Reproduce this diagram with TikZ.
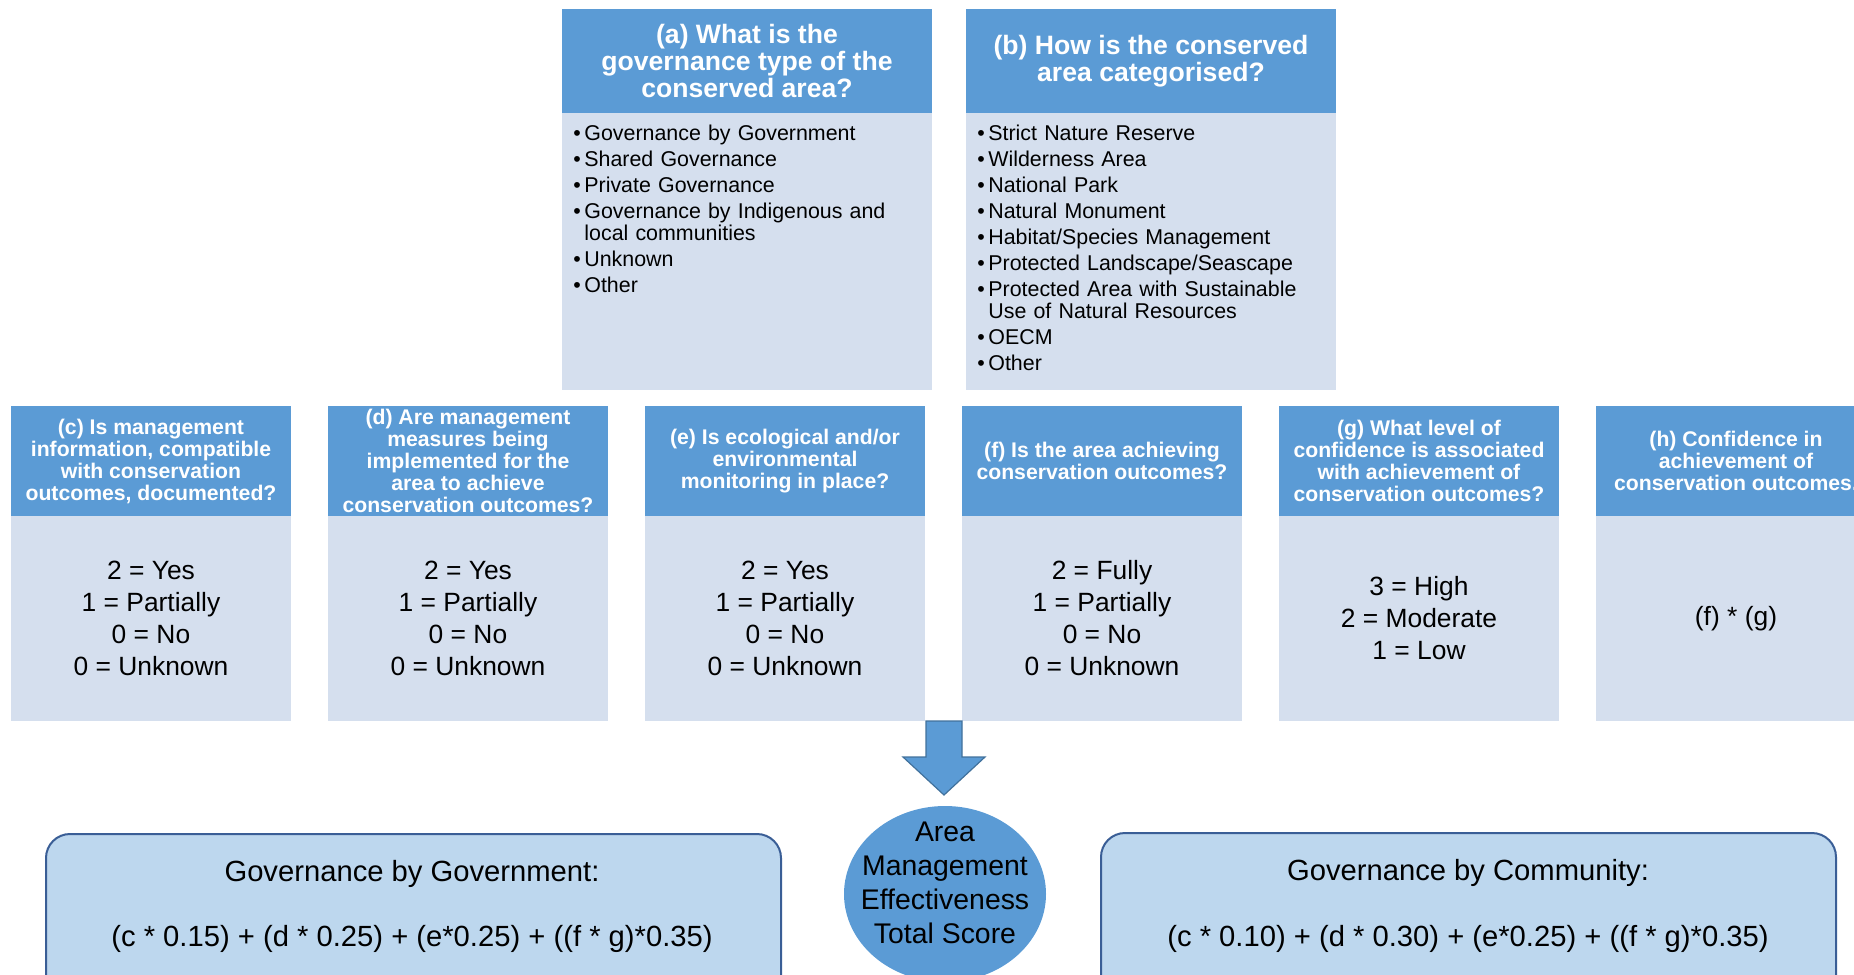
\documentclass[tikz,border=0pt]{standalone}
\usepackage{fontspec}
\setmainfont{Liberation Sans}
\usetikzlibrary{shapes.geometric, positioning}

\definecolor{headblue}{HTML}{5B9BD5}
\definecolor{bodyblue}{HTML}{D5DFEE}
\definecolor{boxblue}{HTML}{BDD7EE}
\definecolor{edgeblue}{HTML}{3A5E96}
\definecolor{arrowedge}{HTML}{41719C}

\newcommand{\listitem}[1]{\par\hangindent=5.5pt\hangafter=1\noindent\makebox[5.5pt][l]{\textbullet}#1}

\tikzset{
  tophead/.style={fill=headblue, text=white, font=\fontsize{13.3}{13.6}\selectfont\bfseries, align=center, minimum width=185pt, minimum height=52pt, inner sep=0pt, outer sep=0pt},
  topbody/.style={fill=bodyblue, minimum width=185pt, minimum height=138.5pt, inner sep=0pt, outer sep=0pt},
  toplist/.style={anchor=north west, text width=178pt, align=left, font=\fontsize{10.7}{10.9}\selectfont, inner sep=0pt, execute at begin node={\setlength{\parskip}{2.1pt}}},
  qhead/.style={fill=headblue, text=white, font=\fontsize{10.6}{11}\selectfont\bfseries, align=center, minimum width=140pt, minimum height=55pt, inner sep=0pt, outer sep=0pt},
  qbody/.style={fill=bodyblue, font=\fontsize{13.2}{16}\selectfont, align=center, minimum width=140pt, minimum height=102.5pt, inner sep=0pt, outer sep=0pt},
  scorebox/.style={draw=edgeblue, line width=1pt, fill=boxblue, rounded corners=12pt, minimum width=367.5pt, minimum height=100pt, anchor=north west},
  boxtext/.style={font=\fontsize{14.6}{17}\selectfont},
}

\begin{document}
\begin{tikzpicture}[x=0.5pt, y=-0.5pt]
    \clip (0,0) rectangle (1854,975);

    % Governance type and category
    \node[tophead, anchor=north west] (ha) at (562,9) {(a) What is the\\governance type of the\\conserved area?};
    \node[tophead, right=17pt of ha] (hb) {(b) How is the conserved\\area categorised?};
    \node[topbody, below=0pt of ha] (ba) {};
    \node[topbody, below=0pt of hb] (bb) {};
    \node[toplist] (la) at (573,114.5) {%
        \listitem{Governance by Government}
        \listitem{Shared Governance}
        \listitem{Private Governance}
        \listitem{Governance by Indigenous and\newline local communities}
        \listitem{Unknown}
        \listitem{Other}};
    \node[toplist] (lb) at (977,114.5) {%
        \listitem{Strict Nature Reserve}
        \listitem{Wilderness Area}
        \listitem{National Park}
        \listitem{Natural Monument}
        \listitem{Habitat/Species Management}
        \listitem{Protected Landscape/Seascape}
        \listitem{Protected Area with Sustainable\newline Use of Natural Resources}
        \listitem{OECM}
        \listitem{Other}};

    % Scoring questions
    \node[qhead, anchor=north west] (qc) at (11,406) {(c) Is management\\information, compatible\\with conservation\\outcomes, documented?};
    \node[qhead, right=18.5pt of qc] (qd) {(d) Are management\\measures being\\implemented for the\\area to achieve\\conservation outcomes?};
    \node[qhead, right=18.5pt of qd] (qe) {(e) Is ecological and/or\\environmental\\monitoring in place?};
    \node[qhead, right=18.5pt of qe] (qf) {(f) Is the area achieving\\conservation outcomes?};
    \node[qhead, right=18.5pt of qf] (qg) {(g) What level of\\confidence is associated\\with achievement of\\conservation outcomes?};
    \node[qhead, right=18.5pt of qg] (qh) {(h) Confidence in\\achievement of\\conservation outcomes.};

    % Scores
    \node[qbody, below=0pt of qc] (sc) {2 = Yes\\1 = Partially\\0 = No\\0 = Unknown};
    \node[qbody, below=0pt of qd] (sd) {2 = Yes\\1 = Partially\\0 = No\\0 = Unknown};
    \node[qbody, below=0pt of qe] (se) {2 = Yes\\1 = Partially\\0 = No\\0 = Unknown};
    \node[qbody, below=0pt of qf] (sf) {2 = Fully\\1 = Partially\\0 = No\\0 = Unknown};
    \node[qbody, below=0pt of qg] (sg) {3 = High\\2 = Moderate\\1 = Low};
    \node[qbody, below=0pt of qh] (sh) {(f) * (g)};

    % Block arrow
    \draw[fill=headblue, draw=arrowedge, line width=0.6pt] (926,721) -- (962,721) -- (962,757) -- (985,757) -- (944,795) -- (903,757) -- (926,757) -- cycle;

    % Total score
    \node[ellipse, fill=headblue, minimum width=101pt, minimum height=88pt, inner sep=0pt,
        label={[align=center, font=\fontsize{14.2}{17}\selectfont, yshift=5.5pt]center:Area\\Management\\Effectiveness\\Total Score}] (score) at (945,894) {};

    % Weightings
    \node[scorebox] (gov) at (45,833) {};
    \node[scorebox] (com) at (1100,832) {};
    \node[boxtext] (govtitle) at (412,873.5) {Governance by Government:};
    \node[boxtext] (govcalc) at (412,938.5) {(c * 0.15) + (d * 0.25) + (e*0.25) + ((f * g)*0.35)};
    \node[boxtext] (comtitle) at (1468,872.5) {Governance by Community:};
    \node[boxtext] (comcalc) at (1468,938.5) {(c * 0.10) + (d * 0.30) + (e*0.25) + ((f * g)*0.35)};
\end{tikzpicture}
\end{document}
